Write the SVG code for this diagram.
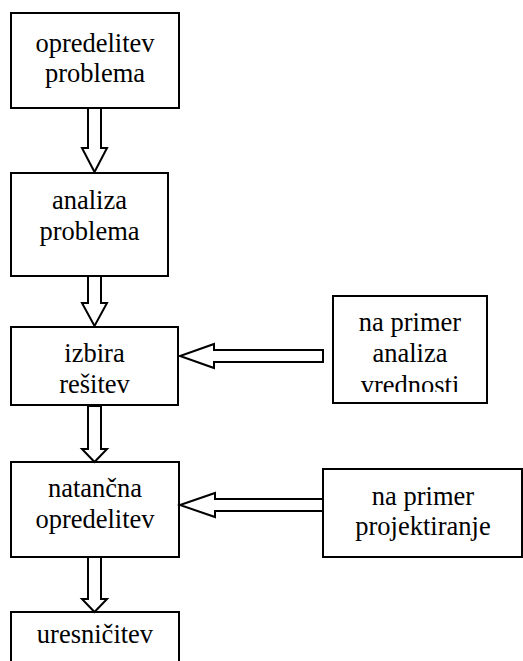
<svg xmlns="http://www.w3.org/2000/svg" width="523" height="661" viewBox="0 0 523 661">
  <style>
    .box { fill: #ffffff; stroke: #000000; stroke-width: 2; }
    .arrow { fill: #ffffff; stroke: #000000; stroke-width: 2; stroke-linejoin: miter; }
    .label { font-family: 'Liberation Serif', 'Times New Roman', Times, Tinos, 'Noto Serif', 'DejaVu Serif', FreeSerif, serif; font-size: 26.5px; fill: #000000; text-anchor: middle; }
  </style>
  <defs>
    <!-- text area of the value-analysis box; last line is cut by it -->
    <clipPath id="clip-vrednosti">
      <rect x="333" y="296" width="154" height="96"/>
    </clipPath>
  </defs>
  <rect width="523" height="661" fill="#ffffff"/>

  <g id="n1">
    <rect class="box" x="11" y="13" width="168" height="95"/>
    <text class="label" x="95" y="52">opredelitev</text>
    <text class="label" x="95" y="82">problema</text>
  </g>

  <g id="n2">
    <rect class="box" x="11" y="173" width="157" height="103"/>
    <text class="label" x="89.5" y="209">analiza</text>
    <text class="label" x="89.5" y="240">problema</text>
  </g>

  <g id="n3">
    <rect class="box" x="11" y="327" width="167" height="78"/>
    <text class="label" x="94.5" y="362">izbira</text>
    <text class="label" x="94.5" y="393">rešitev</text>
  </g>

  <g id="n4">
    <rect class="box" x="333" y="296" width="154" height="107"/>
    <g clip-path="url(#clip-vrednosti)">
      <text class="label" x="410" y="331">na primer</text>
      <text class="label" x="410" y="362">analiza</text>
      <text class="label" x="410" y="394">vrednosti</text>
    </g>
  </g>

  <g id="n5">
    <rect class="box" x="11" y="462" width="168" height="95"/>
    <text class="label" x="95" y="497">natančna</text>
    <text class="label" x="95" y="528">opredelitev</text>
  </g>

  <g id="n6">
    <rect class="box" x="323" y="469" width="199" height="88"/>
    <text class="label" x="423" y="505">na primer</text>
    <text class="label" x="423" y="535">projektiranje</text>
  </g>

  <g id="n7">
    <rect class="box" x="11" y="612" width="168" height="60"/>
    <text class="label" x="95" y="643">uresničitev</text>
  </g>

  <g id="connectors">
    <polygon class="arrow" points="88,108 101,108 101,148 107,148 94.5,172 82,148 88,148"/>
    <polygon class="arrow" points="88,276 101,276 101,303 107,303 94.5,326 82,303 88,303"/>
    <polygon class="arrow" points="88,406 101,406 101,449 107,449 94.5,462 82,449 88,449"/>
    <polygon class="arrow" points="88,557 101,557 101,599 107,599 94.5,612 82,599 88,599"/>
    <polygon class="arrow" points="323,350 323,362 214,362 214,368 180,356 214,344 214,350"/>
    <polygon class="arrow" points="323,499 323,511 215,511 215,517 180,505 215,493 215,499"/>
  </g>
</svg>
